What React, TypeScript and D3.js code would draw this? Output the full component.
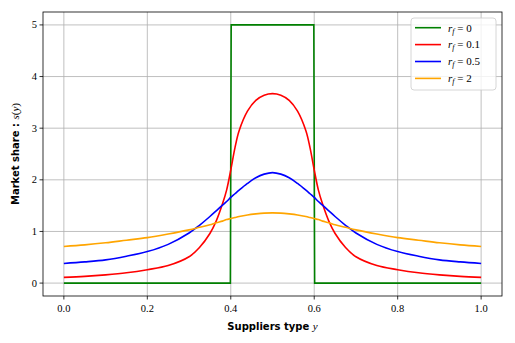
import React from 'react';
import * as d3 from 'd3';

// values (symmetric around y = 0.5)
const xs = [0, 0.05, 0.1, 0.15, 0.2, 0.25, 0.3, 0.325, 0.35, 0.365, 0.38, 0.39, 0.4, 0.41, 0.42, 0.44, 0.46, 0.48, 0.5];
const red = [0.11, 0.13, 0.16, 0.2, 0.26, 0.34, 0.51, 0.69, 0.96, 1.2, 1.53, 1.8, 2.19, 2.62, 2.95, 3.33, 3.54, 3.64, 3.67];
const blue = [0.38, 0.41, 0.45, 0.52, 0.61, 0.75, 0.97, 1.12, 1.29, 1.4, 1.51, 1.58, 1.66, 1.73, 1.8, 1.93, 2.04, 2.11, 2.14];
const orange = [0.71, 0.74, 0.78, 0.83, 0.88, 0.95, 1.03, 1.08, 1.13, 1.17, 1.2, 1.23, 1.25, 1.27, 1.29, 1.32, 1.34, 1.355, 1.36];
const greenX = [0, 0.399, 0.401, 0.599, 0.601, 1];
const greenY = [0, 0, 5, 5, 0, 0];

const xTicks = [0, 0.2, 0.4, 0.6, 0.8, 1.0];
const yTicks = [0, 1, 2, 3, 4, 5];
const labels = ['0', '0.1', '0.5', '2'];
const colors = ['green', 'red', 'blue', 'orange'];

const mirror = (vals: number[]) => {
  const pts = xs.map((x, i) => [x, vals[i]]);
  const back = xs.slice(0, -1).reverse().map((x, i) => [1 - x, vals[xs.length - 2 - i]]);
  return pts.concat(back);
};

export default function App() {
  const W = 515, H = 343;
  const m = { left: 43, right: 502, top: 12, bottom: 296 };
  const x = d3.scaleLinear().domain([-0.05, 1.05]).range([m.left, m.right]);
  const y = d3.scaleLinear().domain([-0.25, 5.25]).range([m.bottom, m.top]);
  const smooth = d3.line().x(d => x(d[0])).y(d => y(d[1])).curve(d3.curveCatmullRom.alpha(0.5));
  const straight = d3.line().x(d => x(d[0])).y(d => y(d[1]));

  const series = [
    straight(greenX.map((v, i) => [v, greenY[i]]) as any),
    smooth(mirror(red) as any),
    smooth(mirror(blue) as any),
    smooth(mirror(orange) as any),
  ];

  const serif = "'Liberation Serif', serif";
  const sans = "'DejaVu Sans', sans-serif";

  return (
    <div style={{ position: 'absolute', left: 0, top: 0 }}>
      <svg width={W} height={H} style={{ display: 'block', background: '#fff' }}>
        {xTicks.map(t => (
          <line key={'gx' + t} x1={x(t)} x2={x(t)} y1={m.top} y2={m.bottom} stroke="#b0b0b0" strokeWidth={0.8} />
        ))}
        {yTicks.map(t => (
          <line key={'gy' + t} x1={m.left} x2={m.right} y1={y(t)} y2={y(t)} stroke="#b0b0b0" strokeWidth={0.8} />
        ))}
        {series.map((d, i) => (
          <path key={i} d={d || ''} fill="none" stroke={colors[i]} strokeWidth={1.6} />
        ))}
        <rect x={m.left} y={m.top} width={m.right - m.left} height={m.bottom - m.top} fill="none" stroke="#000" strokeWidth={0.8} />
        {xTicks.map(t => (
          <g key={'tx' + t}>
            <line x1={x(t)} x2={x(t)} y1={m.bottom} y2={m.bottom + 3.5} stroke="#000" strokeWidth={0.8} />
            <text x={x(t)} y={m.bottom + 16} textAnchor="middle" fontFamily={serif} fontSize={10.5}>{t.toFixed(1)}</text>
          </g>
        ))}
        {yTicks.map(t => (
          <g key={'ty' + t}>
            <line x1={m.left - 3.5} x2={m.left} y1={y(t)} y2={y(t)} stroke="#000" strokeWidth={0.8} />
            <text x={m.left - 6} y={y(t) + 3.5} textAnchor="end" fontFamily={serif} fontSize={10.5}>{t}</text>
          </g>
        ))}
        <text x={(m.left + m.right) / 2} y={330} textAnchor="middle" fontSize={10}>
          <tspan fontFamily={sans} fontWeight="bold">Suppliers type </tspan>
          <tspan fontFamily={serif} fontStyle="italic" fontSize={11}>y</tspan>
        </text>
        <text transform={`translate(19,${(m.top + m.bottom) / 2}) rotate(-90)`} textAnchor="middle" fontSize={10}>
          <tspan fontFamily={sans} fontWeight="bold">Market share : </tspan>
          <tspan fontFamily={serif} fontSize={11} fontStyle="italic">s</tspan>
          <tspan fontFamily={serif} fontSize={11}>(</tspan>
          <tspan fontFamily={serif} fontSize={11} fontStyle="italic">y</tspan>
          <tspan fontFamily={serif} fontSize={11}>)</tspan>
        </text>
        <g>
          <rect x={411} y={18} width={85} height={72} rx={3} fill="#fff" fillOpacity={0.8} stroke="#cccccc" strokeWidth={0.8} />
          {labels.map((l, i) => (
            <g key={l}>
              <line x1={415} x2={441} y1={27.7 + i * 16.9} y2={27.7 + i * 16.9} stroke={colors[i]} strokeWidth={1.6} />
              <text x={448} y={31.5 + i * 16.9} fontFamily={serif} fontSize={11}>
                <tspan fontStyle="italic">r</tspan>
                <tspan fontStyle="italic" fontSize={8} dy={2}>f</tspan>
                <tspan dy={-2}> = {l}</tspan>
              </text>
            </g>
          ))}
        </g>
      </svg>
    </div>
  );
}
